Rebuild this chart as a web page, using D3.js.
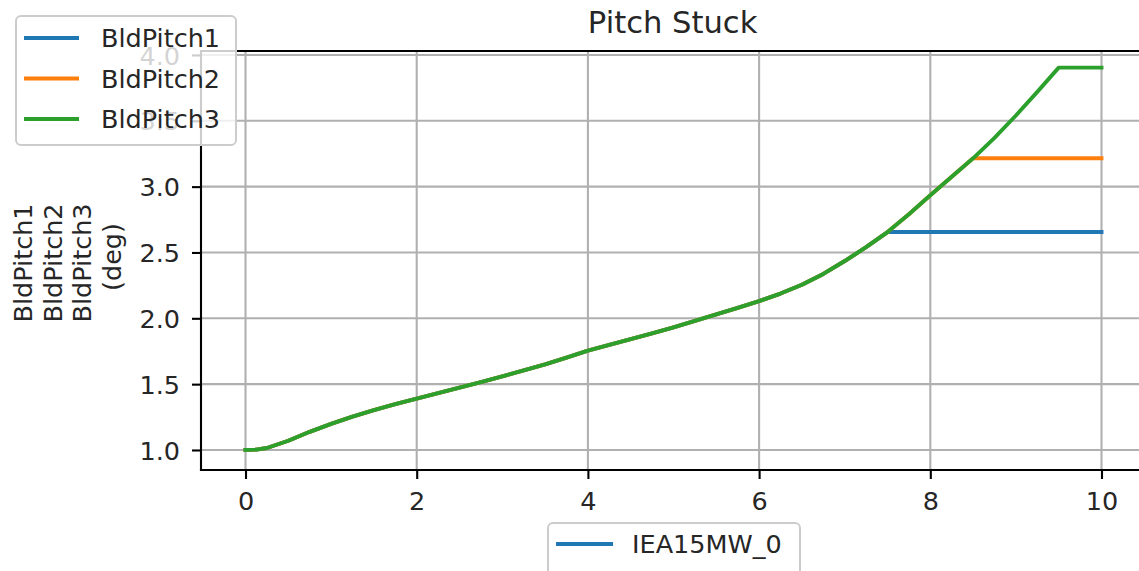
<!DOCTYPE html>
<html>
<head>
<meta charset="utf-8">
<script src="https://cdn.jsdelivr.net/npm/d3@7"></script>
<style>
  html, body { margin: 0; padding: 0; background: #fff; }
  svg { display: block; font-family: "DejaVu Sans", sans-serif; }
</style>
</head>
<body>
<svg id="chart" width="1139" height="571"></svg>
<script>
// Simulation time (s)
const time = [0, 0.125, 0.25, 0.5, 0.75, 1, 1.25, 1.5, 1.75, 2, 2.25, 2.5, 2.75, 3, 3.25, 3.5, 3.75, 4,
  4.25, 4.5, 4.75, 5, 5.25, 5.5, 5.75, 6, 6.25, 6.5, 6.75, 7, 7.25, 7.5, 7.75, 8,
  8.25, 8.5, 8.75, 9, 9.25, 9.5, 9.75, 10];

// Blade pitch angles (deg); blade 1 sticks at 7.5 s, blade 2 at 8.5 s, blade 3 at 9.5 s
const bldPitch1 = [1.000, 1.003, 1.015, 1.070, 1.138, 1.198, 1.253, 1.302, 1.348, 1.390, 1.432, 1.473, 1.515, 1.559, 1.604, 1.650, 1.701, 1.754,
  1.798, 1.842, 1.886, 1.932, 1.980, 2.030, 2.080, 2.130, 2.188, 2.255, 2.337, 2.435, 2.540, 2.655, 2.655, 2.655,
  2.655, 2.655, 2.655, 2.655, 2.655, 2.655, 2.655, 2.655];
const bldPitch2 = [1.000, 1.003, 1.015, 1.070, 1.138, 1.198, 1.253, 1.302, 1.348, 1.390, 1.432, 1.473, 1.515, 1.559, 1.604, 1.650, 1.701, 1.754,
  1.798, 1.842, 1.886, 1.932, 1.980, 2.030, 2.080, 2.130, 2.188, 2.255, 2.337, 2.435, 2.540, 2.655, 2.790, 2.935,
  3.075, 3.215, 3.215, 3.215, 3.215, 3.215, 3.215, 3.215];
const bldPitch3 = [1.000, 1.003, 1.015, 1.070, 1.138, 1.198, 1.253, 1.302, 1.348, 1.390, 1.432, 1.473, 1.515, 1.559, 1.604, 1.650, 1.701, 1.754,
  1.798, 1.842, 1.886, 1.932, 1.980, 2.030, 2.080, 2.130, 2.188, 2.255, 2.337, 2.435, 2.540, 2.655, 2.790, 2.935,
  3.075, 3.215, 3.370, 3.540, 3.720, 3.904, 3.904, 3.904];

const seriesNames = ["BldPitch1", "BldPitch2", "BldPitch3"];
const seriesColors = ["#1f77b4", "#ff7f0e", "#2ca02c"];
const caseNames = ["IEA15MW_0"];
const xTicks = [0, 2, 4, 6, 8, 10];
const yTicks = [1.0, 1.5, 2.0, 2.5, 3.0, 3.5, 4.0];
const titleText = "Pitch Stuck";
const yLabelLines = ["BldPitch1", "BldPitch2", "BldPitch3", "(deg)"];

const series = [bldPitch1, bldPitch2, bldPitch3];

(function draw() {
  const svg = d3.select("#chart");
  const FS = 25.5;

  // Axes box
  const axL = 201, axT = 51, axB = 470, axR = 1144.3;
  const x = d3.scaleLinear().domain([-0.52, 10.5]).range([axL, axR]);
  const y = d3.scaleLinear().domain([0.848, 4.03]).range([axB, axT]);

  svg.append("rect").attr("width", 1139).attr("height", 571).attr("fill", "#fff");

  svg.append("clipPath").attr("id", "plotclip")
    .append("rect").attr("x", axL).attr("y", axT).attr("width", axR - axL).attr("height", axB - axT);

  // Grid
  const grid = svg.append("g").attr("stroke", "#b0b0b0").attr("stroke-width", 2.1);
  grid.selectAll("line.gx").data(xTicks).join("line").attr("class", "gx")
    .attr("x1", d => x(d)).attr("x2", d => x(d)).attr("y1", axT).attr("y2", axB);
  grid.selectAll("line.gy").data(yTicks).join("line").attr("class", "gy")
    .attr("y1", d => y(d)).attr("y2", d => y(d)).attr("x1", axL).attr("x2", axR);

  // Data lines
  const line = d3.line().x(d => x(d[0])).y(d => y(d[1]));
  const plot = svg.append("g").attr("clip-path", "url(#plotclip)");
  series.forEach((vals, i) => {
    plot.append("path")
      .datum(time.map((t, k) => [t, vals[k]]))
      .attr("d", line)
      .attr("fill", "none")
      .attr("stroke", seriesColors[i])
      .attr("stroke-width", 3.9)
      .attr("stroke-linecap", "square")
      .attr("stroke-linejoin", "round");
  });

  // Axes
  const xAxis = d3.axisBottom(x).tickValues(xTicks).tickFormat(d3.format("d")).tickSize(9).tickPadding(9);
  const yAxis = d3.axisLeft(y).tickValues(yTicks).tickFormat(d3.format(".1f")).tickSize(9).tickPadding(9);

  const gx = svg.append("g").attr("transform", `translate(0,${axB})`).call(xAxis);
  const gy = svg.append("g").attr("transform", `translate(${axL},0)`).call(yAxis);
  [gx, gy].forEach(g => {
    g.select(".domain").remove();
    g.selectAll(".tick line").attr("stroke", "#000").attr("stroke-width", 2.1);
    g.selectAll(".tick text").attr("font-size", FS).attr("fill", "#262626")
      .attr("font-family", "DejaVu Sans, sans-serif");
  });
  gx.selectAll(".tick text").attr("dy", "0.73em").attr("y", 21);
  gy.selectAll(".tick text").attr("x", -21).attr("dy", "0.36em");

  // Spines
  const spines = svg.append("g").attr("stroke", "#000").attr("stroke-width", 2.1).attr("stroke-linecap", "square");
  spines.append("line").attr("x1", axL).attr("x2", axL).attr("y1", axT).attr("y2", axB);
  spines.append("line").attr("x1", axL).attr("x2", axR).attr("y1", axB).attr("y2", axB);
  spines.append("line").attr("x1", axL).attr("x2", axR).attr("y1", axT).attr("y2", axT);
  spines.append("line").attr("x1", axR).attr("x2", axR).attr("y1", axT).attr("y2", axB);

  // Title
  svg.append("text")
    .attr("x", (axL + axR) / 2).attr("y", 33)
    .attr("text-anchor", "middle")
    .attr("font-size", 30.6).attr("fill", "#262626")
    .text(titleText);

  // Y axis label (multi-line, rotated)
  const yLab = svg.append("g").attr("transform", "translate(0,263) rotate(-90)");
  const labBaselines = [32, 61.5, 91, 120.5];
  yLabelLines.forEach((t, i) => {
    yLab.append("text")
      .attr("x", i === 3 ? 6 : 0)
      .attr("y", labBaselines[i])
      .attr("text-anchor", "middle")
      .attr("font-size", FS).attr("fill", "#262626")
      .text(t);
  });

  // Series legend
  const leg1 = svg.append("g");
  leg1.append("rect")
    .attr("x", 16).attr("y", 16).attr("width", 220).attr("height", 129)
    .attr("rx", 5).attr("ry", 5)
    .attr("fill", "#fff").attr("fill-opacity", 0.8)
    .attr("stroke", "#cccccc").attr("stroke-width", 2);
  seriesNames.forEach((name, i) => {
    const yy = 38 + i * 40.5;
    leg1.append("line").attr("x1", 24).attr("x2", 79).attr("y1", yy).attr("y2", yy)
      .attr("stroke", seriesColors[i]).attr("stroke-width", 3.9);
    leg1.append("text").attr("x", 101).attr("y", yy).attr("dy", "0.36em")
      .attr("font-size", FS).attr("fill", "#262626").text(name);
  });

  // Case legend
  const leg2 = svg.append("g");
  leg2.append("rect")
    .attr("x", 548).attr("y", 523).attr("width", 252).attr("height", 52)
    .attr("rx", 5).attr("ry", 5)
    .attr("fill", "#fff").attr("fill-opacity", 0.8)
    .attr("stroke", "#cccccc").attr("stroke-width", 2);
  caseNames.forEach((name, i) => {
    const yy = 544;
    leg2.append("line").attr("x1", 556).attr("x2", 613).attr("y1", yy).attr("y2", yy)
      .attr("stroke", seriesColors[i]).attr("stroke-width", 3.9);
    leg2.append("text").attr("x", 632).attr("y", yy).attr("dy", "0.36em")
      .attr("font-size", FS).attr("fill", "#262626").text(name);
  });
})();
</script>
</body>
</html>
